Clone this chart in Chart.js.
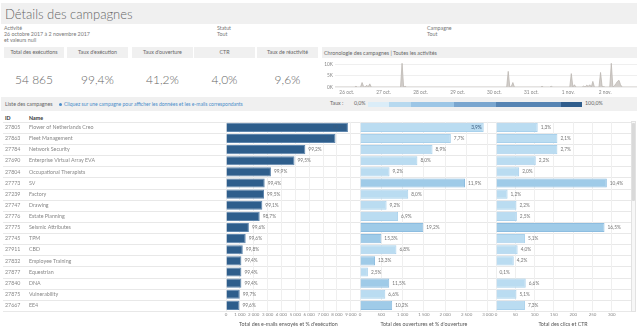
<!DOCTYPE html>
<html><head><meta charset="utf-8">
<script src="https://cdn.jsdelivr.net/npm/chart.js@4.4.0/dist/chart.umd.min.js"></script>
<style>
html,body{margin:0;padding:0;background:#fff;width:640px;height:336px;overflow:hidden;font-family:Lato,"Noto Sans",sans-serif;color:#777}
.abs{position:absolute;white-space:nowrap}
.band{position:absolute;background:#f0f0f0}
.sm{font-size:5.3px;line-height:6px}
canvas{position:absolute}
.kh{position:absolute;top:47px;height:11px;background:#f0f0f0;font-size:5.3px;line-height:11px;text-align:center;color:#666}
.kv{position:absolute;top:73px;height:14px;font-size:12px;line-height:14px;text-align:center;color:#666;font-weight:300}
</style></head><body>
<div class="band" style="left:1px;top:3px;width:636px;height:21px"></div>
<div class="abs" style="left:5px;top:7px;font-size:13px;line-height:14px;color:#666;font-weight:300">Détails des campagnes</div>
<div class="abs sm" style="left:4px;top:25px">Activité</div>
<div class="abs sm" style="left:4px;top:30.5px">26 octobre 2017 à 2 novembre 2017</div>
<div class="abs sm" style="left:4px;top:36.5px">et valeurs null</div>
<div class="abs sm" style="left:217px;top:25px">Statut</div>
<div class="abs sm" style="left:217px;top:30.5px">Tout</div>
<div class="abs sm" style="left:427px;top:25px">Campagne</div>
<div class="abs sm" style="left:427px;top:30.5px">Tout</div>
<div id="kpis"></div>
<div class="abs" style="left:3px;top:99px;width:315px;height:1px;background:#e4e4e4"></div>
<div class="band" style="left:322px;top:47px;width:315px;height:11px"></div>
<div class="abs sm" style="left:324px;top:49.5px;color:#666">Chronologie des campagnes | Toutes les activités</div>
<div class="band" style="left:1px;top:97px;width:636px;height:14px"></div>
<div class="abs sm" style="left:5px;top:101px;color:#666">Liste des campagnes</div>
<div class="abs" style="left:59px;top:102.5px;width:3px;height:3px;border-radius:50%;background:#4a8cc9"></div>
<div class="abs" style="left:64px;top:101.3px;font-size:5px;line-height:6px;color:#4a8cc9">Cliquez sur une campagne pour afficher les données et les e-mails correspondants</div>
<div class="abs sm" style="left:330px;top:100px;color:#666">Taux :</div>
<div class="abs sm" style="left:354px;top:100px;color:#666">0,0%</div>
<div class="abs" style="left:368px;top:101.5px;width:214px;height:5px;background:linear-gradient(90deg,#dbedf8 0%,#dbedf8 10%,#b7d9ef 10%,#b7d9ef 20%,#9cc6e6 20%,#9cc6e6 40%,#7aa6cf 40%,#7aa6cf 60%,#5684b3 60%,#5684b3 90%,#2f5d8c 90%)"></div>
<div class="abs sm" style="left:585px;top:100px;color:#666">100,0%</div>
<div class="abs" style="left:5px;top:115px;font-size:5.3px;line-height:6px;color:#333;font-weight:bold">ID</div>
<div class="abs" style="left:29px;top:115px;font-size:5.3px;line-height:6px;color:#333;font-weight:bold">Name</div>
<div class="abs" style="left:631px;top:121px;width:5px;height:191px;background:#f7f7f7;border:1px solid #e2e2e2;box-sizing:border-box"></div>
<div class="abs" style="left:632px;top:123px;width:3px;height:78px;background:#d9d9d9;border-radius:1px"></div>

<canvas id="tl" width="320" height="40" style="left:320px;top:58px"></canvas>
<canvas id="cL" width="357" height="224" style="left:0px;top:112px"></canvas>
<canvas id="cM" width="137" height="224" style="left:357px;top:112px"></canvas>
<canvas id="cR" width="137" height="224" style="left:494px;top:112px"></canvas>

<script>
// ---------- DATA ----------
const kpiLabels = ['Total des exécutions','Taux d\'exécution','Taux d\'ouverture','CTR','Taux de réactivité'];
const kpiValues = ['54 865','99,4%','41,2%','4,0%','9,6%'];

const campaignIds = ['27805','27863','27784','27690','27804','27773','27239','27747','27776','27775','27745','27911','27832','27877','27840','27875','27667'];
const campaignNames = ['Flower of Netherlands Creo','Fleet Management','Network Security','Enterprise Virtual Array EVA','Occupational Therapists','SV','Factory','Drawing','Estate Planning','Seismic Attributes','TPM','CBD','Employee Training','Equestrian','DNA','Vulnerability','EE4'];
const emailsSent = [8790,7896,5720,4940,3240,2790,2740,2620,2430,1650,1420,1210,1110,1110,1110,990,970];
const executionRate = [99.7,99.3,99.2,99.5,99.9,99.4,99.5,99.1,98.7,99.6,99.6,99.8,99.4,99.4,99.4,99.7,99.6];
const opens = [2903,2132,1702,1347,693,2464,1132,624,894,1485,501,855,353,185,686,594,755];
const openRate = [3.9,7.7,8.9,8.0,9.2,11.9,8.0,9.2,6.9,19.2,15.3,6.8,13.3,2.5,11.5,6.6,10.2];
const clicks = [108,159,159,103,60,287,30,53,54,281,75,56,46,1,77,53,75];
const ctr = [1.3,2.1,2.7,2.2,2.0,10.4,1.2,2.2,2.5,16.5,5.1,4.0,4.2,0.1,6.6,5.1,7.3];

const sentTicks = [0,1000,2000,3000,4000,5000,6000,7000,8000,9000];
const openTicks = [0,500,1000,1500,2000,2500,3000];
const clickTicks = [0,50,100,150,200,250,300];

// timeline: hours from 26 oct 00:00, counts
const timelineHours  = [-8,5,6,7,9,10,11,12,13,14,15,16,35,36,37,38,39,104,105,106,107,108,109,126,127,128,132,133,134,145,146,147,148,149,153,154,155,156,157,158,159,160,161,164,165,166,167,168,171,172,173,174,175,176,177,178,179,189];
const timelineCounts = [0,0,300,0,0,2000,200,0,800,100,1400,0,0,10600,0,300,0,0,7000,0,200,2000,0,0,300,0,0,300,0,0,6000,0,1000,0,0,400,0,800,300,1000,0,2500,0,0,6500,300,200,0,0,10600,0,500,1500,2500,3000,1000,0,0];
const dayLabels = ['26 oct.','27 oct.','28 oct.','29 oct.','30 oct.','31 oct.','1 nov.','2 nov.'];
const timeTicks = [0,5000,10000];

// ---------- KPI ----------
const kpiX = [4,67,132,194,257], kpiW = [60,61,61,61,61];
let kh='';
kpiLabels.forEach((l,i)=>{
  kh += `<div class="kh" style="left:${kpiX[i]}px;width:${kpiW[i]}px">${l}</div>`;
  kh += `<div class="kv" style="left:${kpiX[i]}px;width:${kpiW[i]}px">${kpiValues[i]}</div>`;
});
document.getElementById('kpis').innerHTML = kh;

// ---------- helpers ----------
const FONT = 'Lato';
const fr = v => v.toLocaleString('fr-FR').replace(/\u202f|\u00a0/g,' ');
const pct = v => v.toFixed(1).replace('.',',')+'%';

const rowsPlugin = (withText) => ({
  id:'rows',
  beforeDraw(chart){
    const ctx=chart.ctx, y=chart.scales.y, a=chart.chartArea;
    ctx.save();
    ctx.strokeStyle='#e8e8e8'; ctx.lineWidth=1;
    const n=campaignIds.length;
    for(let i=0;i<=n;i++){
      let yy;
      if(i===0) yy=a.top; else if(i===n) yy=a.bottom;
      else yy=(y.getPixelForValue(i-1)+y.getPixelForValue(i))/2;
      yy=Math.round(yy)+0.5;
      ctx.beginPath(); ctx.moveTo(withText?3:0,yy); ctx.lineTo(chart.width,yy); ctx.stroke();
    }
    if(withText){
      ctx.font='5.3px '+FONT; ctx.fillStyle='#888'; ctx.textBaseline='middle'; ctx.textAlign='left';
      for(let i=0;i<n;i++){
        const yy=y.getPixelForValue(i);
        ctx.fillText(campaignIds[i],5,yy);
        ctx.fillText(campaignNames[i],29,yy);
      }
    }
    ctx.restore();
  }
});

const labelPlugin = (labels) => ({
  id:'barLabels',
  afterDatasetsDraw(chart){
    const ctx=chart.ctx, meta=chart.getDatasetMeta(0);
    ctx.save(); ctx.font='4.8px '+FONT; ctx.textBaseline='middle';
    meta.data.forEach((bar,i)=>{
      const t=labels[i], w=ctx.measureText(t).width;
      let x=bar.x+3; ctx.textAlign='left';
      if(x+w>chart.chartArea.right){ x=bar.x-2; ctx.textAlign='right'; ctx.fillStyle='#3a5c80'; }
      else ctx.fillStyle='#777';
      ctx.fillText(t,x,bar.y);
    });
    ctx.restore();
  }
});

function barChart(id, values, labels, colors, border, tickVals, min, max, title, padL, padR, withText){
  return new Chart(document.getElementById(id), {
    type:'bar',
    data:{ labels: campaignIds, datasets:[{ data: values, backgroundColor: colors, borderColor: border, borderWidth: 1, barPercentage: 0.82, categoryPercentage: 1 }] },
    options:{
      responsive:false, animation:false, indexAxis:'y',
      layout:{ autoPadding:false, padding:{ left:padL, right:padR, top:9.8, bottom:0 } },
      plugins:{ legend:{display:false}, tooltip:{enabled:false} },
      scales:{
        y:{ display:false },
        x:{
          min:min, max:max,
          afterFit: s => { s.height = 25; },
          afterBuildTicks: ax => { ax.ticks = tickVals.map(v=>({value:v})); },
          grid:{ color:'#efefef', drawTicks:false },
          border:{ display:false },
          ticks:{ font:{family:FONT,size:4.4}, color:'#888', padding:0.5, maxRotation:0, autoSkip:false, callback: v => fr(v) },
          title:{ display:true, text:title, font:{family:FONT,size:5.3}, color:'#555', padding:{top:0,bottom:9} }
        }
      }
    },
    plugins:[ rowsPlugin(withText), labelPlugin(labels) ]
  });
}

const rateColor = r => r>=10 ? '#9fcbe8' : '#badcf1';
const rateBorder = r => r>=10 ? '#8dbde0' : '#a9d1ec';

barChart('cL', emailsSent, executionRate.map(pct), emailsSent.map(()=> '#2e5e8c'), '#5f86ad', sentTicks, 0, 9000, "Total des e-mails envoyés et % d'exécution", 226, 3.7, true);
barChart('cM', opens, openRate.map(pct), openRate.map(rateColor), openRate.map(rateBorder), openTicks, 0, 3000, "Total des ouvertures et % d'ouverture", 3, 4, false);
barChart('cR', clicks, ctr.map(pct), ctr.map(rateColor), ctr.map(rateBorder), clickTicks, 0, 347, 'Total des clics et CTR', 2, 1, false);

// ---------- timeline ----------
new Chart(document.getElementById('tl'), {
  type:'line',
  data:{ datasets:[{ data: timelineHours.map((h,i)=>({x:h,y:timelineCounts[i]})), fill:'origin', backgroundColor:'#d2cecb', borderColor:'#bdb8b3', borderWidth:0.8, pointRadius:0, tension:0 }] },
  options:{
    responsive:false, animation:false,
    layout:{ autoPadding:false, padding:{ left:0, right:3, top:3, bottom:0 } },
    plugins:{ legend:{display:false}, tooltip:{enabled:false} },
    scales:{
      x:{ type:'linear', min:-7.6, max:188.7,
        afterFit: s => { s.height = 11; },
        afterBuildTicks: ax => { ax.ticks = dayLabels.map((d,i)=>({value:i*24})); },
        grid:{ display:false, drawTicks:false }, border:{ display:false },
        ticks:{ font:{family:FONT,size:4.8}, color:'#888', padding:3, maxRotation:0, autoSkip:false, callback:(v)=> dayLabels[Math.round(v/24)] }
      },
      y:{ min:0, max:10800,
        afterFit: s => { s.width = 15; },
        afterBuildTicks: ax => { ax.ticks = timeTicks.map(v=>({value:v})); },
        grid:{ color:'#efefef', drawTicks:false }, border:{ display:false },
        ticks:{ font:{family:FONT,size:4.8}, color:'#888', padding:2, callback: v => (v/1000)+'K' }
      }
    }
  }
});
</script>
</body></html>
